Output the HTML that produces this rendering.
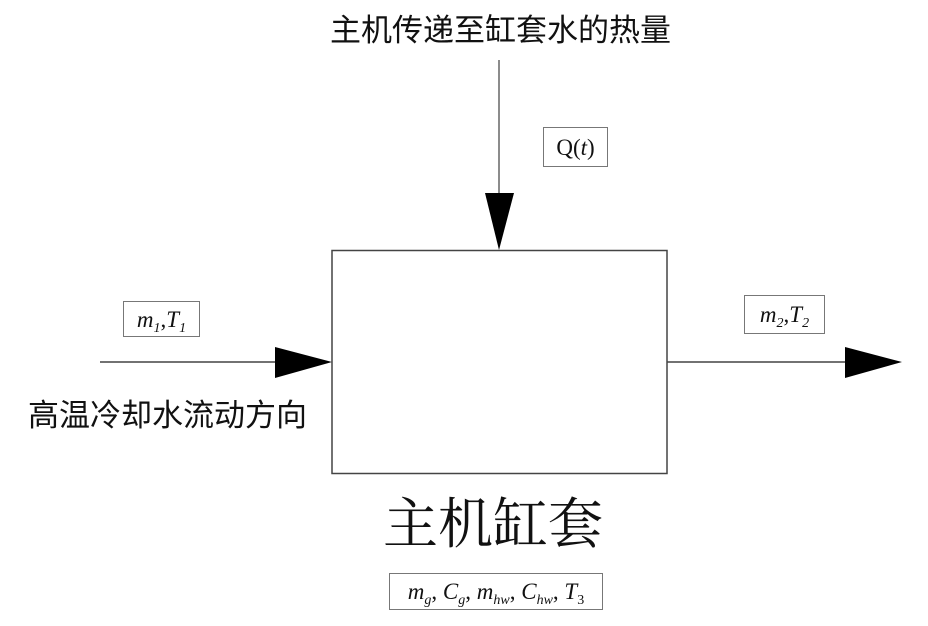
<!DOCTYPE html>
<html><head><meta charset="utf-8"><style>
body{margin:0;width:928px;height:626px;background:#fff;position:relative;overflow:hidden;font-family:"Liberation Sans","Noto Sans CJK SC",sans-serif;}
.t{position:absolute;white-space:nowrap;color:#111;line-height:1;}
.b{position:absolute;border:1.5px solid #777;box-sizing:border-box;display:flex;align-items:center;justify-content:center;font-family:"Liberation Serif","DejaVu Serif",serif;font-size:23px;color:#111;background:#fff;}
.b span{white-space:nowrap;line-height:1;}
i{font-style:italic}
sub{font-size:14px;vertical-align:-5px;font-style:italic;line-height:0}
</style></head><body>
<svg width="928" height="626" style="position:absolute;left:0;top:0">
<rect x="332" y="250.5" width="335" height="223" fill="none" stroke="#444" stroke-width="1.5"/>
<line x1="499" y1="60" x2="499" y2="200" stroke="#666" stroke-width="1.5"/>
<polygon points="485,193 514,193 499,250" fill="#000"/>
<line x1="100" y1="362" x2="280" y2="362" stroke="#444" stroke-width="1.5"/>
<polygon points="275,347 275,378 332,362" fill="#000"/>
<line x1="667" y1="362" x2="850" y2="362" stroke="#444" stroke-width="1.5"/>
<polygon points="845,347 845,378 902,362" fill="#000"/>
</svg>
<div class="t" style="left:330px;top:15px;font-size:31px;">主机传递至缸套水的热量</div>
<div class="t" style="left:28px;top:400px;font-size:31px;">高温冷却水流动方向</div>
<div class="t" style="left:383px;top:492px;font-size:55px;font-family:'Noto Serif CJK SC','Liberation Serif',serif;">主机缸套</div>
<div class="b" style="left:543px;top:127px;width:65px;height:40px;"><span>Q(<i>t</i>)</span></div>
<div class="b" style="left:123px;top:301px;width:77px;height:36px;"><span><i>m</i><sub>1</sub>,<i>T</i><sub>1</sub></span></div>
<div class="b" style="left:744px;top:295px;width:81px;height:39px;"><span><i>m</i><sub>2</sub>,<i>T</i><sub>2</sub></span></div>
<div class="b" style="left:389px;top:573px;width:214px;height:37px;"><span><i>m</i><sub>g</sub>, <i>C</i><sub>g</sub>, <i>m</i><sub>hw</sub>, <i>C</i><sub>hw</sub>, <i>T</i><sub style="font-style:normal">3</sub></span></div>
</body></html>
